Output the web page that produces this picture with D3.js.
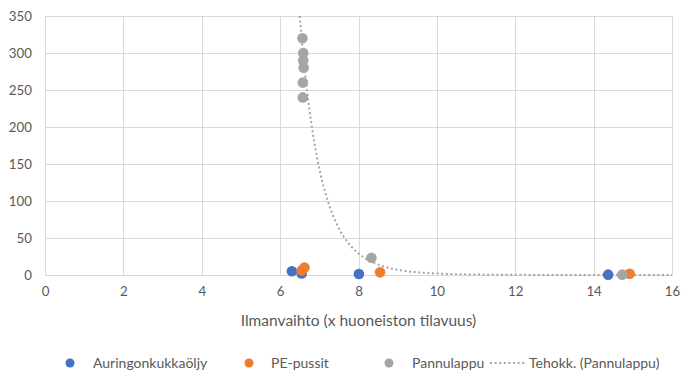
<!DOCTYPE html>
<html><head><meta charset="utf-8">
<script src="https://cdn.jsdelivr.net/npm/d3@7"></script>
<style>
html,body{margin:0;padding:0;background:#fff;}
svg{display:block;font-family:"Lato","Open Sans",sans-serif;}
</style></head>
<body>
<svg id="chart" width="681" height="372"></svg>
<script>
// ---- data ----
const xTicks = [0, 2, 4, 6, 8, 10, 12, 14, 16];
const yTicks = [0, 50, 100, 150, 200, 250, 300, 350];
const seriesNames = ["Auringonkukkaöljy", "PE-pussit", "Pannulappu"];
const trendName = "Tehokk. (Pannulappu)";
const aurinkoX = [6.30, 6.55, 8.01, 14.37];
const aurinkoY = [5, 2, 1.4, 0.5];
const pePussitX = [6.55, 6.62, 8.55, 14.92];
const pePussitY = [6, 10, 3.6, 1.7];
const pannuX = [6.57, 6.59, 6.59, 6.60, 6.58, 6.58, 8.33, 14.73];
const pannuY = [320, 300, 290, 280, 260, 240, 23.4, 0.5];
// power trendline y = a * x^b
const trendB = -12;
const trendA = 350 * Math.pow(6.5, 12);
const colors = ["#4472C4", "#ED7D31", "#A5A5A5"];

// ---- layout ----
const svg = d3.select("#chart");
const x = d3.scaleLinear().domain([0, 16]).range([45, 672]);
const y = d3.scaleLinear().domain([0, 350]).range([275, 16]);

// gridlines
svg.append("g").selectAll("line.h").data(yTicks).join("line")
  .attr("x1", x(0)).attr("x2", x(16))
  .attr("y1", d => Math.round(y(d)) + 0.5).attr("y2", d => Math.round(y(d)) + 0.5)
  .attr("stroke", "#d9d9d9").attr("stroke-width", 1);
svg.append("g").selectAll("line.v").data(xTicks).join("line")
  .attr("y1", y(0)).attr("y2", y(350))
  .attr("x1", d => Math.round(x(d)) + 0.5).attr("x2", d => Math.round(x(d)) + 0.5)
  .attr("stroke", "#d9d9d9").attr("stroke-width", 1);

// axes (text only, lines handled by grid)
const xAxis = d3.axisBottom(x).tickValues(xTicks).tickSize(0).tickPadding(12);
const gx = svg.append("g").attr("transform", `translate(0,${y(0)})`).call(xAxis);
gx.select(".domain").attr("stroke", "#d9d9d9");
gx.selectAll("text").attr("fill", "#595959").style("font-size", "13.3px").style("font-family", "Lato, sans-serif");

const yAxis = d3.axisLeft(y).tickValues(yTicks).tickSize(0).tickPadding(13);
const gy = svg.append("g").attr("transform", `translate(${x(0)},0)`).call(yAxis);
gy.select(".domain").remove();
gy.selectAll("text").attr("fill", "#595959").style("font-size", "13.3px").style("font-family", "Lato, sans-serif");

// axis title
svg.append("text").attr("x", (x(0) + x(16)) / 2).attr("y", 326)
  .attr("text-anchor", "middle").attr("fill", "#595959")
  .style("font-size", "15.5px").text("Ilmanvaihto (x huoneiston tilavuus)");

// trendline
const xStart = Math.pow(350 / trendA, 1 / trendB);
const trendPts = d3.range(xStart, 16.0001, 0.02).map(v => [v, trendA * Math.pow(v, trendB)]);
svg.append("path").datum(trendPts)
  .attr("d", d3.line().x(d => x(d[0])).y(d => y(d[1])))
  .attr("fill", "none").attr("stroke", "#A5A5A5").attr("stroke-width", 2)
  .attr("stroke-dasharray", "2,2.6");

// points
const series = [
  {xs: aurinkoX, ys: aurinkoY},
  {xs: pePussitX, ys: pePussitY},
  {xs: pannuX, ys: pannuY}
];
[0, 1, 2].forEach(i => {
  const s = series[i];
  svg.append("g").selectAll("circle").data(s.xs.map((v, k) => [v, s.ys[k]])).join("circle")
    .attr("cx", d => x(d[0])).attr("cy", d => y(d[1])).attr("r", 5.3)
    .attr("fill", colors[i]);
});

// legend
const legY = 363;
const legItems = [
  {dot: 70, tx: 93},
  {dot: 249, tx: 271},
  {dot: 389, tx: 412}
];
legItems.forEach((p, i) => {
  svg.append("circle").attr("cx", p.dot).attr("cy", legY).attr("r", 4.5).attr("fill", colors[i]);
  svg.append("text").attr("x", p.tx).attr("y", legY + 5).attr("fill", "#595959")
    .style("font-size", "14px").text(seriesNames[i]);
});
svg.append("line").attr("x1", 490).attr("x2", 525).attr("y1", legY).attr("y2", legY)
  .attr("stroke", "#A5A5A5").attr("stroke-width", 2).attr("stroke-dasharray", "2,2.6");
svg.append("text").attr("x", 529).attr("y", legY + 5).attr("fill", "#595959")
  .style("font-size", "14px").text(trendName);
</script>
</body></html>
